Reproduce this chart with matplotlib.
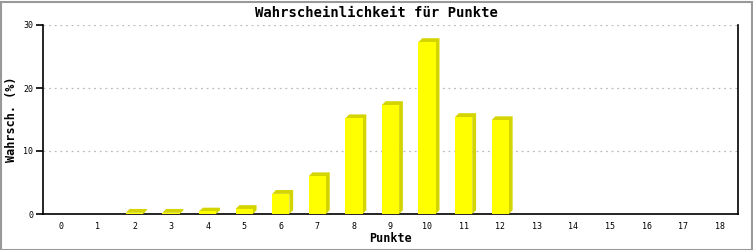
import numpy as np
import matplotlib
matplotlib.use("Agg")
import matplotlib.pyplot as plt
from matplotlib.patches import Rectangle

# data
punkte = list(range(19))
wahrsch = [0, 0, 0.2, 0.2, 0.4, 0.8, 3.2, 6.0, 15.2, 17.3, 27.3, 15.4, 14.9,
           0, 0, 0, 0, 0, 0]
y_ticks = [0, 10, 20, 30]

W, H = 753, 250
fig = plt.figure(figsize=(W / 100, H / 100), dpi=100)
fig.patch.set_facecolor("white")

ax_l, ax_r, ax_t, ax_b = 43, 738, 25, 214
ax = fig.add_axes([ax_l / W, 1 - ax_b / H, (ax_r - ax_l) / W, (ax_b - ax_t) / H])
ax.set_xlim(-0.5, 18.5)
ax.set_ylim(0, 30)

# 3d depth of the bars in pixels -> data units
depth_px = 3.8
dx = depth_px * (19 / (ax_r - ax_l))
dy = depth_px * (30 / (ax_b - ax_t))
bw = 0.47

for x, v in zip(punkte, wahrsch):
    if v <= 0:
        continue
    x0, x1 = x - bw / 2, x + bw / 2
    ax.fill([x1, x1 + dx, x1 + dx, x0 + dx, x0, x1],
            [0, dy, v + dy, v + dy, v, v],
            color="#d4d400", lw=0, zorder=3)
    ax.bar(x, v, width=bw, color="#ffff00", lw=0, zorder=4)

ax.set_yticks(y_ticks)
ax.set_xticks(punkte)
ax.set_xticklabels([str(p) for p in punkte])
ax.yaxis.grid(True, linestyle=(0, (1.5, 3)), color="#bbbbbb", lw=0.9)
ax.set_axisbelow(True)

for s in ["left", "right", "bottom"]:
    ax.spines[s].set_color("black")
    ax.spines[s].set_linewidth(1.2)
ax.spines["top"].set_visible(False)

ax.tick_params(axis="x", length=0, pad=6, labelsize=6)
ax.tick_params(axis="y", length=5, width=1.2, pad=2, labelsize=6)
for lab in ax.get_xticklabels() + ax.get_yticklabels():
    lab.set_family("DejaVu Sans Mono")

ax.set_xlabel("Punkte", family="DejaVu Sans Mono", fontweight="bold",
              fontsize=8.5, va="center")
ax.xaxis.set_label_coords(0.5, -(239 - ax_b) / (ax_b - ax_t))
ax.set_ylabel("Wahrsch. (%)", family="DejaVu Sans Mono", fontweight="bold",
              fontsize=8.5, va="center")
ax.yaxis.set_label_coords((12 - ax_l) / (ax_r - ax_l), 0.5)

fig.text(0.5, 1 - 13 / H, "Wahrscheinlichkeit für Punkte",
         family="DejaVu Sans Mono", fontweight="bold", fontsize=10,
         ha="center", va="center")

# gray frame around the picture
fig.patches.append(Rectangle((0.5 / W, 0.5 / H), 1 - 2 / W, 1 - 2 / H,
                             transform=fig.transFigure, fill=False,
                             edgecolor="#999999", lw=1.5))

fig.savefig("out.png", dpi=100)
